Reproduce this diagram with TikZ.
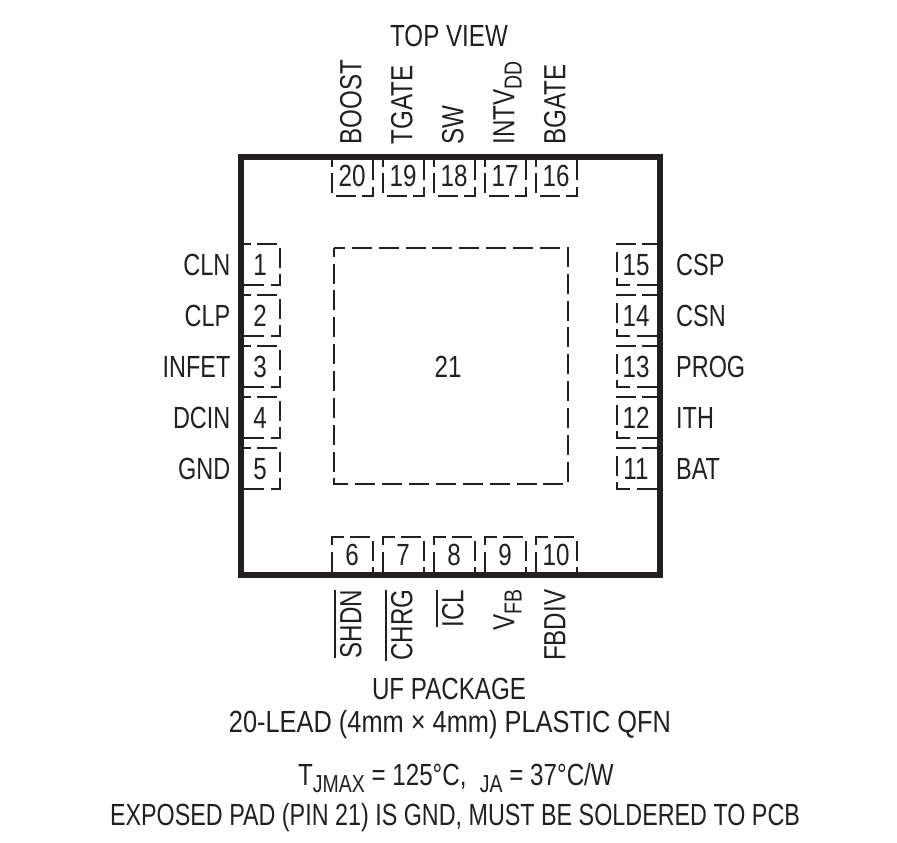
\documentclass[tikz,border=0pt]{standalone}
\usepackage{fontspec}
\setmainfont{Liberation Sans}[FakeStretch=0.79]
\definecolor{inkc}{HTML}{231F20}
\newcommand{\lowtxt}[1]{\raisebox{-0.45ex}{\fontsize{7pt}{7pt}\selectfont #1}}
\newcommand{\bartxt}[1]{$\overline{\mbox{#1}}$}
\tikzset{
    txt/.style={inner sep=0pt, text=inkc, font=\fontsize{8.7pt}{10pt}\selectfont},
    sidetxt/.style={txt, xscale=0.97},
    padline/.style={draw=inkc, line width=0.55pt, dash pattern=on 5.69pt off 1.85pt},
    bigpad/.style={draw=inkc, line width=0.55pt, dash pattern=on 5.69pt off 1.95pt, dash phase=2.56pt},
}
\begin{document}
\begin{tikzpicture}[x=0.01cm,y=-0.01cm]
    \useasboundingbox (0,0) rectangle (897,842);

    \draw[inkc, line width=1.75pt] (241,157) rectangle (660,575);
    \draw[bigpad] (334,248) -- (568,248) -- (568,484) -- (334,484) -- cycle;
    \node[txt] (pin21) at (448,367) {21};

    % left side
    \foreach \n/\name [count=\i from 0] in {1/CLN,2/CLP,3/INFET,4/DCIN,5/GND}{
        \pgfmathsetmacro{\py}{244+51*\i}
        \draw[padline] (244,\py+41) -- (280,\py+41) -- (280,\py) -- (244,\py);
        \node[txt] (pin\n) at (260,\py+21) {\n};
        \node[sidetxt, anchor=east] (lab\n) at (231,\py+21) {\name};
    }
    % right side
    \foreach \n/\name [count=\i from 0] in {15/CSP,14/CSN,13/PROG,12/ITH,11/BAT}{
        \pgfmathsetmacro{\py}{244+51*\i}
        \draw[padline] (657,\py+41) -- (617,\py+41) -- (617,\py) -- (657,\py);
        \node[txt] (pin\n) at (636,\py+21) {\n};
        \node[sidetxt, anchor=west] (lab\n) at (675.5,\py+21) {\name};
    }
    % top side
    \foreach \n/\name [count=\i from 0] in {20/BOOST,19/TGATE,18/SW,17/INTV\lowtxt{DD},16/BGATE}{
        \pgfmathsetmacro{\px}{332+51*\i}
        \draw[padline] (\px+41,160) -- (\px+41,196) -- (\px,196) -- (\px,160);
        \node[txt] (pin\n) at (\px+20,176) {\n};
        \node[txt, rotate=90, anchor=mid west] (lab\n) at (\px+20,145) {\name};
    }
    % bottom side
    \foreach \n/\name [count=\i from 0] in {6/\bartxt{SHDN},7/\bartxt{CHRG},8/\bartxt{ICL},9/V\lowtxt{FB},10/FBDIV}{
        \pgfmathsetmacro{\px}{332+51*\i}
        \draw[padline] (\px,572) -- (\px,537) -- (\px+41,537) -- (\px+41,572);
        \node[txt] (pin\n) at (\px+20,555) {\n};
        \node[txt, rotate=90, anchor=mid east] (lab\n) at (\px+20,589) {\name};
    }

    \node[txt] (topview) at (449,36) {TOP VIEW};
    \node[txt] (pkg) at (449,689) {UF PACKAGE};
    \node[txt, xscale=1.05] (lead) at (450,725) {20-LEAD (4mm × 4mm) PLASTIC QFN};
    \node[txt] (temp) at (456,778) {T\lowtxt{JMAX} = 125°C, \ \lowtxt{JA} = 37°C/W};
    \node[txt, xscale=0.965] (note) at (455,818) {EXPOSED PAD (PIN 21) IS GND, MUST BE SOLDERED TO PCB};
\end{tikzpicture}
\end{document}
